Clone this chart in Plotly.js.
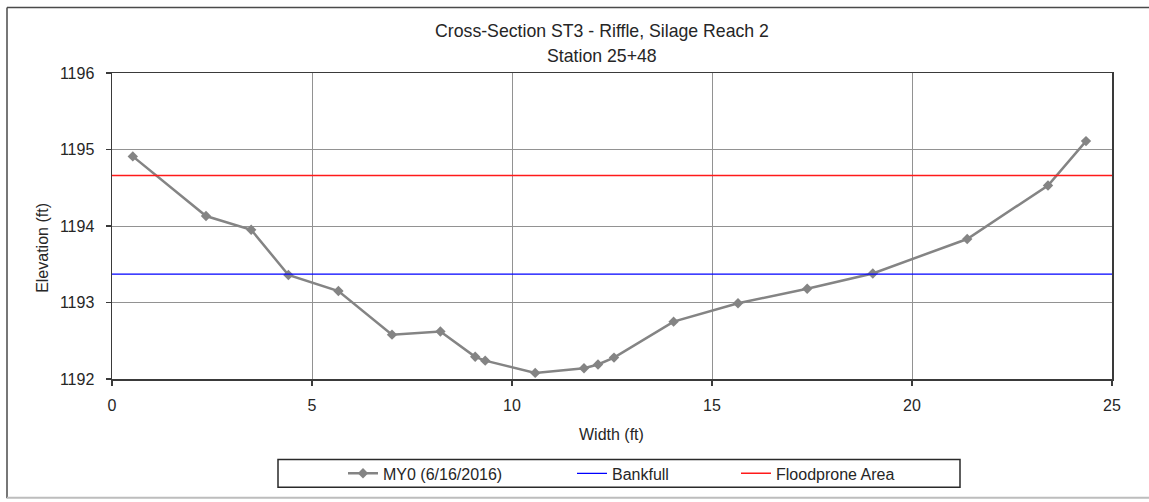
<!DOCTYPE html>
<html>
<head>
<meta charset="utf-8">
<script src="https://cdn.plot.ly/plotly-3.0.1.min.js"></script>
<style>
  html, body { margin: 0; padding: 0; background: #fff; }
  #chart { width: 1149px; height: 502px; }
</style>
</head>
<body>
<div id="chart"></div>
<script>
// ---- Data ----
var widthFt = [0.52, 2.35, 3.48, 4.41, 5.66, 7.00, 8.21, 9.08, 9.33, 10.58,
               11.80, 12.15, 12.55, 14.04, 15.65, 17.38, 19.02, 21.38, 23.40, 24.35];
var elevMY0 = [1194.91, 1194.13, 1193.95, 1193.36, 1193.15, 1192.58, 1192.62, 1192.29, 1192.24, 1192.08,
               1192.14, 1192.19, 1192.28, 1192.75, 1192.99, 1193.18, 1193.38, 1193.83, 1194.53, 1195.11];
var levelX = [0, 25];
var bankfullElev = [1193.37, 1193.37];
var floodproneElev = [1194.66, 1194.66];
var seriesNames = ["MY0 (6/16/2016)", "Bankfull", "Floodprone Area"];
var xTicks = [0, 5, 10, 15, 20, 25];
var yTicks = [1192, 1193, 1194, 1195, 1196];

var FONT = "Liberation Sans, Arial, sans-serif";
var TXT = "#262626";

// plot area in px: x 112..1112, y 73..381
var L = 112, T = 73, PW = 1000, PH = 308;
function px(x) { return (x - L) / PW; }
function py(y) { return 1 - (y - T) / PH; }

var traces = [
  { x: widthFt, y: elevMY0, name: seriesNames[0], type: "scatter", mode: "lines+markers",
    line: { color: "#848484", width: 2.5 },
    marker: { symbol: "diamond", size: 8, color: "#848484" },
    legend: "legend" },
  { x: levelX, y: bankfullElev, name: seriesNames[1], type: "scatter", mode: "lines",
    line: { color: "#0000ff", width: 1.3 }, legend: "legend2" },
  { x: levelX, y: floodproneElev, name: seriesNames[2], type: "scatter", mode: "lines",
    line: { color: "#ff1a1a", width: 1.5 }, legend: "legend3" }
];

function leg(xpx) {
  return { x: px(xpx), xanchor: "left", y: py(476), yanchor: "middle", orientation: "h",
           bgcolor: "rgba(0,0,0,0)", borderwidth: 0, font: { family: FONT, size: 16, color: TXT },
           itemwidth: 30 };
}

var layout = {
  width: 1149, height: 502,
  margin: { l: L, r: 1149 - L - PW, t: T, b: 502 - T - PH },
  paper_bgcolor: "#fff", plot_bgcolor: "#fff",
  font: { family: FONT, size: 16, color: TXT },
  title: { text: "Cross-Section ST3 - Riffle, Silage Reach 2", x: px(602), xanchor: "center",
           xref: "paper", y: 1 - 31 / 502, yanchor: "middle", yref: "container",
           font: { family: FONT, size: 17.7, color: TXT } },
  xaxis: { range: [0, 25], tickvals: xTicks, ticktext: xTicks.map(String),
           showgrid: true, gridcolor: "#929292", gridwidth: 1,
           showline: true, linecolor: "#3a3a3a", linewidth: 1.5, mirror: true,
           ticks: "outside", ticklen: 5, tickcolor: "#3a3a3a", tickwidth: 1.5,
           ticklabelstandoff: 6, zeroline: false,
           tickfont: { family: FONT, size: 16, color: TXT } },
  yaxis: { range: [1192, 1196], tickvals: yTicks, ticktext: yTicks.map(String),
           showgrid: true, gridcolor: "#929292", gridwidth: 1,
           showline: true, linecolor: "#3a3a3a", linewidth: 1.5, mirror: true,
           ticks: "outside", ticklen: 5, tickcolor: "#3a3a3a", tickwidth: 1.5,
           ticklabelstandoff: 8, zeroline: false,
           tickfont: { family: FONT, size: 16, color: TXT } },
  showlegend: true,
  legend: leg(343),
  legend2: leg(572),
  legend3: leg(736),
  annotations: [
    { text: "Station 25+48", xref: "paper", yref: "paper", x: px(602), y: py(56),
      xanchor: "center", yanchor: "middle", showarrow: false,
      font: { family: FONT, size: 17.7, color: TXT } },
    { text: "Width (ft)", xref: "paper", yref: "paper", x: px(611), y: py(437),
      xanchor: "center", yanchor: "middle", showarrow: false,
      font: { family: FONT, size: 16, color: TXT } },
    { text: "Elevation (ft)", xref: "paper", yref: "paper", x: px(43), y: py(249),
      xanchor: "center", yanchor: "middle", showarrow: false, textangle: -90,
      font: { family: FONT, size: 16, color: TXT } }
  ],
  shapes: [
    // legend frame
    { type: "rect", xref: "paper", yref: "paper", x0: px(278), x1: px(960), y0: py(490), y1: py(462),
      line: { color: "#2a2a2a", width: 1.5 }, fillcolor: "rgba(0,0,0,0)" },
    // outer chart frame (left, top, bottom)
    { type: "line", xref: "paper", yref: "paper", x0: px(7), x1: px(7), y0: py(501), y1: py(7),
      line: { color: "#4a4a4a", width: 1.5 } },
    { type: "line", xref: "paper", yref: "paper", x0: px(7), x1: px(1160), y0: py(7), y1: py(7),
      line: { color: "#4a4a4a", width: 1.5 } },
    { type: "line", xref: "paper", yref: "paper", x0: px(7), x1: px(1160), y0: py(500.5), y1: py(500.5),
      line: { color: "#bdbdbd", width: 2 } }
  ]
};

Plotly.newPlot("chart", traces, layout, { displayModeBar: false, staticPlot: true });
</script>
</body>
</html>
